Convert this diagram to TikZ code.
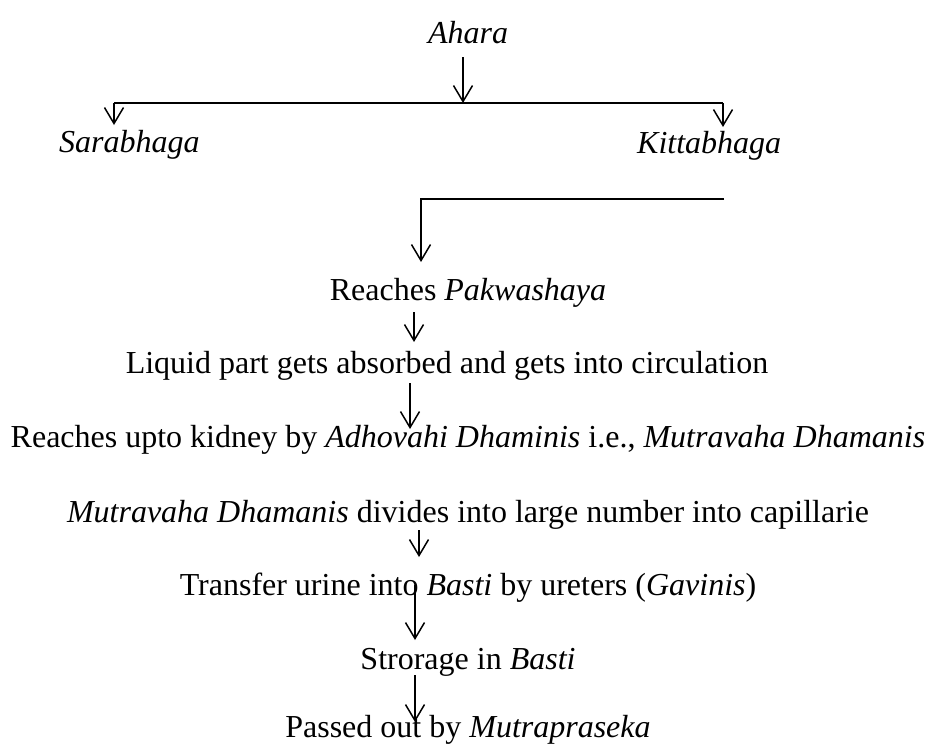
\documentclass[tikz,border=0pt]{standalone}
\usepackage{fontspec}
\setmainfont{Liberation Serif}
\usetikzlibrary{arrows.meta}
\tikzset{
  txt/.style={anchor=base,inner sep=0pt,font=\fontsize{32}{38}\selectfont},
  arr/.style={-{Straight Barb[length=16pt,width=19pt]},line width=1.5pt},
  ln/.style={line width=1.5pt}
}
\begin{document}
\begin{tikzpicture}[x=1pt,y=-1pt]
\useasboundingbox (0,0) rectangle (928,745);
% texts, baselines in px from the top
\node[txt] (ahara) at (468,43) {\textit{Ahara}};
\node[txt,anchor=base west] (sara) at (59,152) {\textit{Sarabhaga}};
\node[txt,anchor=base west] (kitta) at (637,153) {\textit{Kittabhaga}};
\node[txt] (pak) at (468,300) {Reaches \textit{Pakwashaya}};
\node[txt] (liq) at (447,373) {Liquid part gets absorbed and gets into circulation};
\node[txt] (kid) at (468,447) {Reaches upto kidney by \textit{Adhovahi Dhaminis} i.e., \textit{Mutravaha Dhamanis}};
\node[txt] (cap) at (468,522) {\textit{Mutravaha Dhamanis} divides into large number into capillarie};
\node[txt] (uri) at (468,595) {Transfer urine into \textit{Basti} by ureters (\textit{Gavinis})};
\node[txt] (sto) at (468,669) {Strorage in \textit{Basti}};
\node[txt] (pas) at (468,737) {Passed out by \textit{Mutrapraseka}};
% connector stations
\coordinate (a0) at (463,57); \coordinate (a1) at (463,103);
\coordinate (bl) at (114,103); \coordinate (br) at (723,103);
\coordinate (sl) at (114,125); \coordinate (kr) at (723,127);
\coordinate (c0) at (724,199); \coordinate (c1) at (421,199); \coordinate (c2) at (421,262);
\coordinate (d0) at (414,312); \coordinate (d1) at (414,342);
\coordinate (e0) at (410,383); \coordinate (e1) at (410,429);
\coordinate (f0) at (419,530); \coordinate (f1) at (419,557);
\coordinate (g0) at (415,585); \coordinate (g1) at (415,640);
\coordinate (h0) at (415,675); \coordinate (h1) at (415,722);
\draw[arr] (a0) -- (a1);
\draw[ln] (bl) -- (br);
\draw[arr] (bl) -- (sl);
\draw[arr] (br) -- (kr);
\draw[arr] (c0) -- (c1) -- (c2);
\draw[arr] (d0) -- (d1);
\draw[arr] (e0) -- (e1);
\draw[arr] (f0) -- (f1);
\draw[arr] (g0) -- (g1);
\draw[arr] (h0) -- (h1);
\end{tikzpicture}
\end{document}
